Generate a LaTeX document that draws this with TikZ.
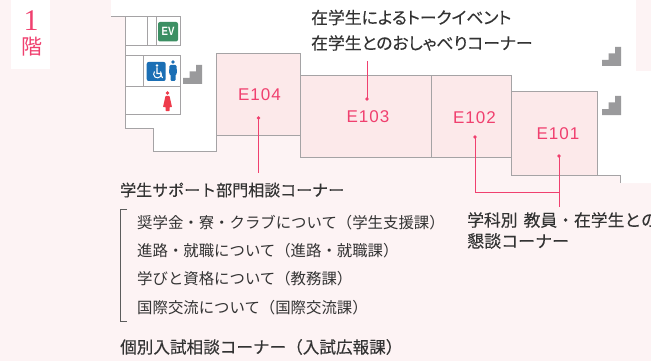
\documentclass[tikz,border=0pt]{standalone}
\usepackage{fontspec}
\setmainfont{Noto Sans CJK JP}
\setsansfont{Liberation Sans}
\newfontfamily\cjkh[FakeBold=0.25]{Noto Sans CJK JP}
\newfontfamily\cjkhp[FakeBold=0.25,RawFeature=+palt]{Noto Sans CJK JP}
\newfontfamily\roomf[LetterSpace=6]{Liberation Sans}
\newfontfamily\numf{Liberation Serif}
\newfontfamily\evf[FakeStretch=0.8]{Liberation Sans}
\definecolor{bgpink}{HTML}{FDF3F4}
\definecolor{roompink}{HTML}{FCE9EA}
\definecolor{wallgray}{HTML}{A5A3A5}
\definecolor{accent}{HTML}{F0406F}
\definecolor{txt}{HTML}{333333}
\definecolor{evgreen}{HTML}{3C8F63}
\definecolor{wcblue}{HTML}{1B6FB5}
\definecolor{wcred}{HTML}{EE3B4B}
\definecolor{stairgray}{HTML}{9A9A9C}
\tikzset{x=1pt,y=-1pt,
 wall/.style={draw=wallgray,line width=1pt},
 room/.style={wall,fill=roompink},
 roomlabel/.style={font=\roomf\fontsize{17}{17}\selectfont,text=accent,inner sep=0pt},
 lead/.style={draw=accent,line width=1pt},
 dotc/.style={circle,fill=accent,inner sep=0pt,minimum size=3.6pt},
 head/.style={font=\cjkh\fontsize{16}{18}\selectfont,text=txt,inner sep=0pt,anchor=west},
 headp/.style={head,font=\cjkhp\fontsize{16.8}{18}\selectfont},
 item/.style={font=\fontsize{15.4}{18}\selectfont,text=txt,inner sep=0pt,anchor=west}}
\newcommand{\stairat}[2]{\fill[stairgray,shift={(#1,#2)}] (0,19)--(0,13)--(6.5,13)--(6.5,6.5)--(13,6.5)--(13,0)--(19,0)--(19,19)--cycle;}
\begin{document}
\begin{tikzpicture}
\useasboundingbox (0,0) rectangle (651,361);
\fill[bgpink] (0,0) rectangle (651,361);
% white floor area
\fill[white] (111,0)--(651,0)--(651,183)--(620,183)--(620,176)--(511,176)--(511,158)--(300,158)--(300,135)--(216.5,135)--(216.5,151)--(153,151)--(153,129)--(125,129)--(125,17)--(111,17)--cycle;
\fill[bgpink] (636,0) rectangle (651,71);
\fill[white] (11,0) rectangle (50,69);
% walls
\draw[wall] (111,17)--(180,17)--(180,46)--(125.5,46);
\draw[wall] (125.5,17)--(125.5,128.5)--(153,128.5)--(153,151)--(216.5,151)--(216.5,135);
\draw[wall] (147.5,17)--(147.5,46);
\draw[wall] (156,17)--(156,46);
\draw[wall] (125.5,55.5)--(180,55.5)--(180,114.5)--(125.5,114.5);
\draw[wall] (125.5,87)--(180,87);
\draw[wall] (143.5,55.5)--(143.5,87);
% rooms
\draw[room] (216.5,54)--(300,54)--(300,135)--(216.5,135)--cycle;
\draw[room] (300,76)--(431,76)--(431,157.5)--(300,157.5)--cycle;
\draw[room] (431,76)--(511,76)--(511,157.5)--(431,157.5)--cycle;
\draw[room] (511,92)--(597.5,92)--(597.5,175.5)--(511,175.5)--cycle;
\draw[wall] (597.5,175.5)--(620,175.5)--(620,183);
% icons
\fill[evgreen,rounded corners=2pt] (158,22) rectangle (178,41.5);
\node[inner sep=0pt,text=white,font=\evf\bfseries\fontsize{12}{12}\selectfont] (ev) at (168,31.7) {EV};
\fill[wcblue,rounded corners=2pt] (146.7,62) rectangle (165.7,81);
\fill[white] (157,65.5) circle (1.4pt);
\draw[white,line width=1.1pt] (157,67.5)--(157,73.5)--(160.5,73.5)--(162.5,78);
\draw[white,line width=1pt] (154.5,71.5) arc (140:400:3.9pt);
\fill[wcblue] (173,62) circle (1.9pt);
\fill[wcblue,rounded corners=1.2pt] (169.5,65)--(176.5,65)--(177,74)--(175.5,74)--(175.5,81)--(170.5,81)--(170.5,74)--(169,74)--cycle;
\fill[wcred] (167.5,93) circle (1.9pt);
\fill[wcred,rounded corners=0.5pt] (165.5,96)--(169.5,96)--(172,107)--(169.5,107)--(169.5,111)--(165.5,111)--(165.5,107)--(163,107)--cycle;
\stairat{183}{65}
\stairat{602}{47}
\stairat{602}{96}
% room labels
\node[roomlabel] (e104) at (259.5,94.5) {E104};
\node[roomlabel] (e103) at (368,117) {E103};
\node[roomlabel] (e102) at (474.5,117.5) {E102};
\node[roomlabel] (e101) at (558,133.5) {E101};
% dots and leaders
\node[dotc] (d104) at (258.5,118) {};
\node[dotc] (d103) at (367,99) {};
\node[dotc] (d102) at (475,137) {};
\node[dotc] (d101) at (559,156) {};
\coordinate (c104) at (258.5,173);
\coordinate (c103) at (367,61);
\coordinate (c101) at (559,207);
\coordinate (cj) at (559,192);
\draw[lead] (d104.center)--(c104);
\draw[lead] (d103.center)--(c103);
\draw[lead] (d101.center)--(c101);
\draw[lead] (d102.center)|-(cj);
% texts
\node[headp] (t1) at (311,17.5) {在学生によるトークイベント};
\node[headp] (t2) at (311,43) {在学生とのおしゃべりコーナー};
\node[head] (t3) at (120,190) {学生サポート部門相談コーナー};
\node[item] (i1) at (137,223) {奨学金・寮・クラブについて（学生支援課）};
\node[item] (i2) at (137,251) {進路・就職について（進路・就職課）};
\node[item] (i3) at (137,279) {学びと資格について（教務課）};
\node[item] (i4) at (137,308) {国際交流について（国際交流課）};
\node[head,font=\cjkh\fontsize{16.6}{18}\selectfont] (t4) at (120,347) {個別入試相談コーナー（入試広報課）};
\node[head,font=\cjkh\fontsize{16.8}{18}\selectfont] (t5) at (467,220) {学科別\hspace{6pt}教員・在学生との};
\node[head,font=\cjkh\fontsize{17}{18}\selectfont] (t6) at (467,241) {懇談コーナー};
\draw[draw=txt!80,line width=0.8pt] (127,209.5)--(120,209.5)--(120,321)--(127,321);
\node[inner sep=0pt,text=accent,font=\numf\fontsize{30}{30}\selectfont] (n1) at (31,20.5) {1};
\node[inner sep=0pt,text=accent,font=\fontsize{21}{21}\selectfont] (n2) at (32,47) {階};
\end{tikzpicture}
\end{document}
